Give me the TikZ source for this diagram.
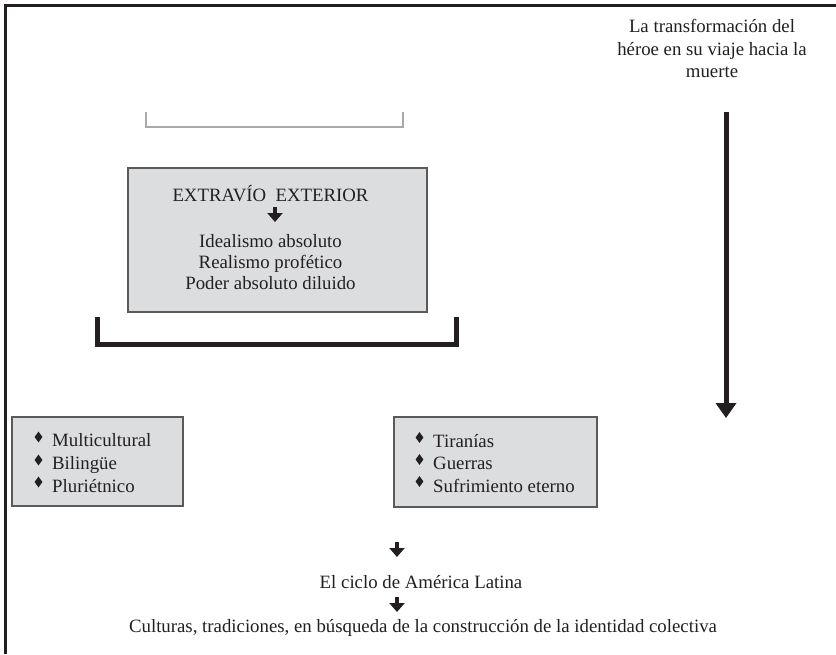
\documentclass[tikz,border=0pt]{standalone}
\usepackage{fontspec}
\setmainfont{Liberation Serif}
\usetikzlibrary{arrows.meta,shapes.geometric}
\definecolor{ink}{HTML}{231F20}
\definecolor{boxfill}{HTML}{DCDDDF}
\definecolor{boxline}{HTML}{5A5A5A}
\definecolor{brgray}{HTML}{A9A9A9}
\tikzset{
  txt/.style={inner sep=0pt, font=\fontsize{18.8}{22}\selectfont, text=ink},
  gbox/.style={draw=boxline, line width=1.5pt, fill=boxfill, inner sep=0pt},
  bullet/.style={diamond, fill=ink, inner sep=0pt, minimum width=8pt, minimum height=11pt},
  smallarrow/.style={draw=ink, line width=4pt, -{Triangle[width=15pt,length=9pt]}},
  bigarrow/.style={draw=ink, line width=5pt, -{Triangle[width=20pt,length=15pt]}},
  frame/.style={draw=ink, line width=2.4pt},
}
\begin{document}
\begin{tikzpicture}[x=1pt,y=-1pt]
\useasboundingbox (0,0) rectangle (836,654);
% outer frame (left and top edges)
\draw[frame] (5.5,654) -- (5.5,5.5) -- (836,5.5);

% top right caption
\node[txt, anchor=base] (cap1) at (712,32) {La transformación del};
\node[txt, anchor=base] (cap2) at (712,55) {héroe en su viaje hacia la};
\node[txt, anchor=base] (cap3) at (712,77) {muerte};

% big vertical arrow
\coordinate (va) at (726,112);
\coordinate (vb) at (726,418);
\draw[bigarrow] (va) -- (vb);

% grey bracket
\draw[draw=brgray, line width=2pt] (146,112) -- (146,126.5) -- (402.5,126.5) -- (402.5,112);

% main box
\node[gbox, minimum width=299pt, minimum height=144pt] (main) at (277.5,240) {};
\node[txt, anchor=base] (ext) at (270.5,201) {EXTRAVÍO\ \ EXTERIOR};
\coordinate (ma) at (275,207);
\coordinate (mb) at (275,222);
\draw[smallarrow] (ma) -- (mb);
\node[txt, anchor=base] (m1) at (270.5,247) {Idealismo absoluto};
\node[txt, anchor=base] (m2) at (270.5,268) {Realismo profético};
\node[txt, anchor=base] (m3) at (270.5,289) {Poder absoluto diluido};

% black bracket
\draw[draw=ink, line width=5pt] (97,317) -- (97,344) -- (456.5,344) -- (456.5,317);

% left box
\node[gbox, minimum width=171pt, minimum height=89pt] (lbox) at (97.5,461.5) {};
\node[bullet] (lb1) at (38.5,437) {};
\node[bullet] (lb2) at (38.5,460) {};
\node[bullet] (lb3) at (38.5,482) {};
\node[txt, anchor=base west] (l1) at (52,446) {Multicultural};
\node[txt, anchor=base west] (l2) at (52,469) {Bilingüe};
\node[txt, anchor=base west] (l3) at (52,492) {Pluriétnico};

% right box
\node[gbox, minimum width=203pt, minimum height=90pt] (rbox) at (495.5,462) {};
\node[bullet] (rb1) at (419.5,437.5) {};
\node[bullet] (rb2) at (419.5,459.5) {};
\node[bullet] (rb3) at (419.5,481.5) {};
\node[txt, anchor=base west] (r1) at (433,447) {Tiranías};
\node[txt, anchor=base west] (r2) at (433,469) {Guerras};
\node[txt, anchor=base west] (r3) at (433,492) {Sufrimiento eterno};

% bottom
\coordinate (b1a) at (397,542);
\coordinate (b1b) at (397,557);
\draw[smallarrow] (b1a) -- (b1b);
\node[txt, anchor=base] (ciclo) at (421,588) {El ciclo de América Latina};
\coordinate (b2a) at (397,597);
\coordinate (b2b) at (397,612);
\draw[smallarrow] (b2a) -- (b2b);
\node[txt, anchor=base] (cult) at (423,632) {Culturas, tradiciones, en búsqueda de la construcción de la identidad colectiva};
\end{tikzpicture}
\end{document}
